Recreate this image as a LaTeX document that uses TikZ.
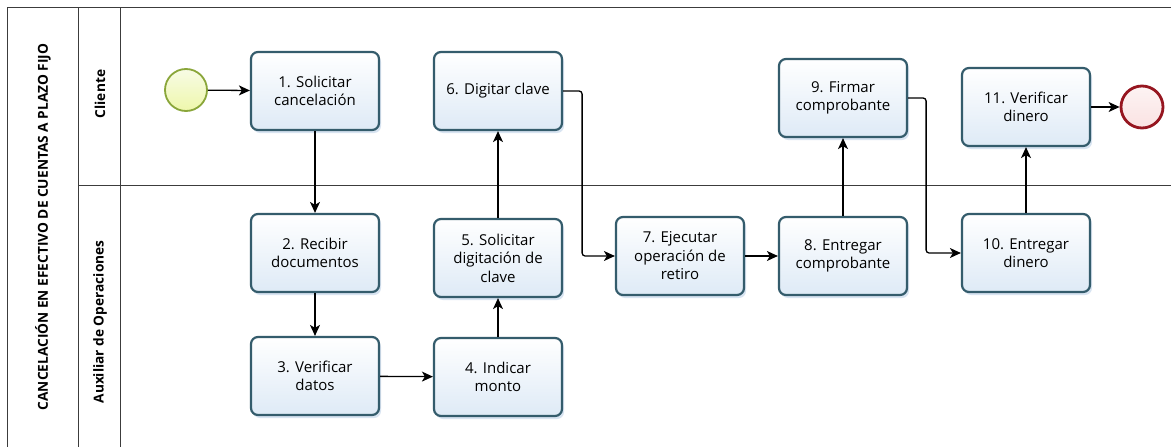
\documentclass[tikz,border=0pt]{standalone}
\usepackage{fontspec}
\setmainfont{Open Sans}
\usetikzlibrary{arrows.meta,shadows,shapes.geometric}
\definecolor{taskline}{RGB}{52,92,108}
\definecolor{tasktop}{RGB}{255,255,255}
\definecolor{taskbot}{RGB}{222,234,246}
\definecolor{shadowblue}{RGB}{190,210,232}
\definecolor{startline}{RGB}{138,166,58}
\definecolor{startfill}{RGB}{236,246,190}
\definecolor{endline}{RGB}{150,22,32}
\definecolor{endfill}{RGB}{250,226,226}
\definecolor{poolline}{RGB}{60,60,60}
\tikzset{
  task/.style={draw=taskline, line width=2.2pt, rounded corners=7pt,
    top color=tasktop, bottom color=taskbot,
    minimum width=128pt, minimum height=78pt, align=center,
    font=\fontsize{15}{18.5}\selectfont,
    drop shadow={fill=shadowblue, opacity=0.6, shadow xshift=2pt, shadow yshift=-3pt}},
  startev/.style={circle, draw=startline, line width=1.8pt, inner sep=0pt,
    minimum size=42pt, top color=startfill!40!white, bottom color=startfill!90!yellow},
  endev/.style={circle, draw=endline, line width=2.8pt, inner sep=0pt,
    minimum size=42pt, top color=endfill!40!white, bottom color=endfill},
  flow/.style={draw=black, line width=1.3pt, -{Stealth[length=11pt,width=10pt,inset=3pt]}},
  pool/.style={draw=poolline, line width=1pt},
  lanelabel/.style={rotate=90, font=\bfseries\fontsize{13.7}{16}\selectfont},
}
\begin{document}
\begin{tikzpicture}[x=1pt, y=-1pt]
\useasboundingbox (0,0) rectangle (1171,447);
\fill[white] (0,0) rectangle (1171,447);

% pool and lanes
\draw[pool] (7,447) -- (7,7) -- (1171,7);
\draw[pool] (78,7) -- (78,447);
\draw[pool] (120,7) -- (120,447);
\draw[pool] (78,185) -- (1171,185);
\node[lanelabel] (title) at (43,227) {CANCELACIÓN EN EFECTIVO DE CUENTAS A PLAZO FIJO};
\node[lanelabel] (lane1) at (100,94) {Cliente};
\node[lanelabel] (lane2) at (100,322) {Auxiliar de Operaciones};

% events
\node[startev] (s) at (186,90) {};
\node[endev] (e) at (1142,107) {};

% tasks
\node[task] (b1) at (315,91) {1. Solicitar\\cancelación};
\node[task] (b2) at (315,253) {2. Recibir\\documentos};
\node[task] (b3) at (315,376) {3. Verificar\\datos};
\node[task] (b4) at (498,377) {4. Indicar\\monto};
\node[task] (b5) at (498,258) {5. Solicitar\\digitación de\\clave};
\node[task] (b6) at (498,91) {6. Digitar clave};
\node[task] (b7) at (680,256) {7. Ejecutar\\operación de\\retiro};
\node[task] (b8) at (843,256) {8. Entregar\\comprobante};
\node[task] (b9) at (843,98) {9. Firmar\\comprobante};
\node[task] (b10) at (1026,253) {10. Entregar\\dinero};
\node[task] (b11) at (1026,107) {11. Verificar\\dinero};

% sequence flows
\draw[flow] (s) -- (b1);
\draw[flow] (b1) -- (b2);
\draw[flow] (b2) -- (b3);
\draw[flow] (b3) -- (b4);
\draw[flow] (b4) -- (b5);
\draw[flow] (b5) -- (b6);
\draw[flow, rounded corners=3pt] (b6.east) -- ++(19,0) |- (b7.west);
\draw[flow] (b7) -- (b8);
\draw[flow] (b8) -- (b9);
\draw[flow, rounded corners=3pt] (b9.east) -- ++(18,0) |- (b10.west);
\draw[flow] (b10) -- (b11);
\draw[flow] (b11) -- (e);
\end{tikzpicture}
\end{document}
